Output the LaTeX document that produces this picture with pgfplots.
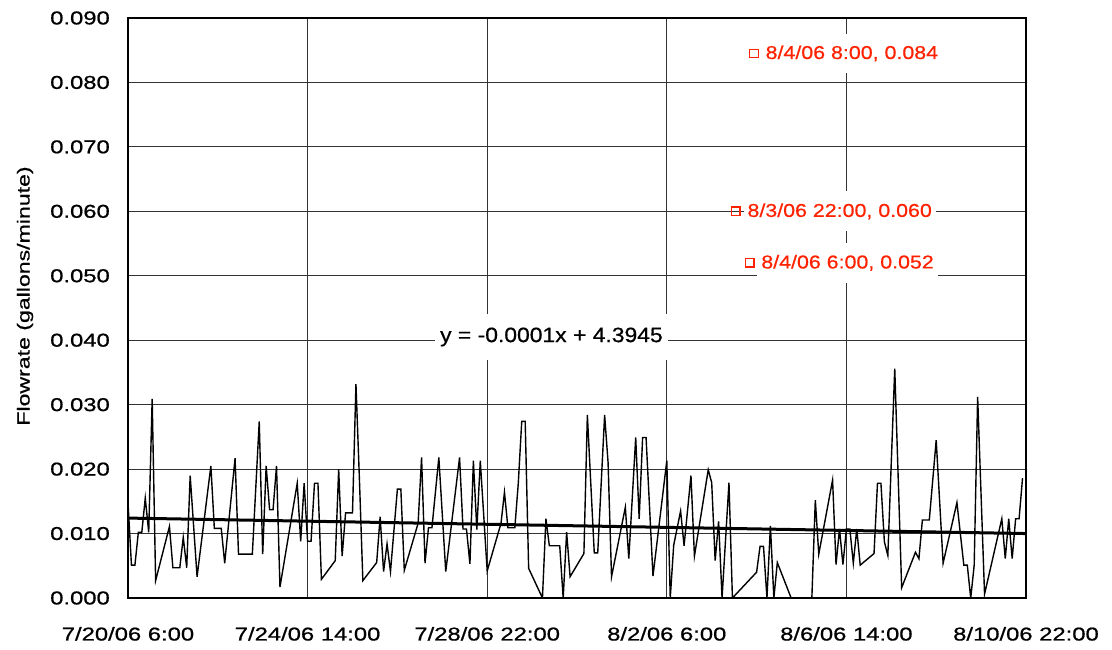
\documentclass[border=0pt]{standalone}
\usepackage{fontspec}
\setmainfont{Liberation Sans}
\newfontfamily\tickfont[FakeStretch=1.28,FakeBold=0.8]{Liberation Sans}
\newfontfamily\annfont[FakeStretch=1.15,FakeBold=0.6]{Liberation Sans}
\newfontfamily\eqfont[FakeStretch=1.1,FakeBold=0.6]{Liberation Sans}
\newfontfamily\labfont[FakeStretch=1.32,FakeBold=0.6]{Liberation Sans}
\usepackage{pgfplots}
\pgfplotsset{compat=1.18}
\definecolor{annred}{RGB}{255,34,0}

\begin{document}
\begin{tikzpicture}
\begin{axis}[
  at={(0pt,0pt)}, anchor=south west,
  scale only axis, width=898pt, height=580pt,
  xmin=0, xmax=520, ymin=0, ymax=0.09,
  scaled y ticks=false, scaled x ticks=false,
  xtick={0,104,208,312,416,520},
  xticklabels={7/20/06 6:00,7/24/06 14:00,7/28/06 22:00,8/2/06 6:00,8/6/06 14:00,8/10/06 22:00},
  ytick={0,0.01,0.02,0.03,0.04,0.05,0.06,0.07,0.08,0.09},
  yticklabels={0.000,0.010,0.020,0.030,0.040,0.050,0.060,0.070,0.080,0.090},
  grid=major,
  major grid style={black!80, line width=0.8pt},
  major tick length=0pt,
  axis line style={line width=1.6pt},
  xticklabel style={font=\tickfont\fontsize{18.6}{22}\selectfont, anchor=base, inner sep=0pt, yshift=-42.5pt},
  yticklabel style={font=\tickfont\fontsize{18.6}{22}\selectfont, anchor=east, inner sep=0pt, xshift=-18pt},
  ylabel={Flowrate (gallons/minute)},
  ylabel style={font=\labfont\fontsize{17.5}{20}\selectfont, at={(axis description cs:-0.1147,0.5207)}, anchor=center},
]
\addplot[black, line width=1.4pt, mark=none] table {
x y
0 0.0148
2 0.0051
4 0.0051
6 0.0102
8 0.0102
10 0.0155
12 0.0102
14 0.0309
16 0.0027
24 0.0111
26 0.0047
30 0.0047
32 0.0094
34 0.0047
36 0.0190
40 0.0033
48 0.0205
50 0.0108
54 0.0108
56 0.0054
62 0.0217
64 0.0068
72 0.0068
76 0.0274
78 0.0068
80 0.0205
82 0.0137
84 0.0137
86 0.0205
88 0.0017
98 0.0178
100 0.0088
102 0.0178
104 0.0088
106 0.0088
108 0.0178
110 0.0178
112 0.0029
120 0.0058
122 0.0200
124 0.0065
126 0.0132
130 0.0132
132 0.0332
134 0.0185
136 0.0027
144 0.0055
146 0.0126
148 0.0041
150 0.0084
152 0.0041
156 0.0169
158 0.0169
160 0.0043
168 0.0116
170 0.0218
172 0.0054
174 0.0109
176 0.0109
180 0.0218
184 0.0041
192 0.0218
194 0.0107
196 0.0107
198 0.0053
200 0.0213
202 0.0106
204 0.0213
208 0.0042
216 0.0116
218 0.0164
220 0.0109
224 0.0109
226 0.0178
228 0.0274
230 0.0274
232 0.0046
240 0.0
242 0.0123
244 0.0081
250 0.0081
252 0.0
254 0.0102
256 0.0033
264 0.0069
266 0.0284
270 0.0070
272 0.0070
276 0.0284
278 0.0210
280 0.0033
288 0.0141
290 0.0061
294 0.0249
296 0.0123
298 0.0249
300 0.0249
304 0.0034
312 0.0213
314 0.0
316 0.0082
320 0.0135
322 0.0081
326 0.0190
328 0.0065
336 0.0199
338 0.0179
340 0.0058
342 0.0119
344 0.0
348 0.0179
350 0.0
364 0.0040
366 0.0080
368 0.0080
370 0.0
372 0.0112
374 0.0
376 0.0055
384 0.0
396 0.0
398 0.0152
400 0.0068
408 0.0183
410 0.0052
412 0.0107
414 0.0052
416 0.0107
418 0.0107
420 0.0054
422 0.0107
424 0.0051
432 0.0069
434 0.0178
436 0.0178
438 0.0087
440 0.0066
444 0.0356
448 0.0016
456 0.0071
458 0.0061
460 0.0121
464 0.0121
468 0.0245
472 0.0054
480 0.0148
484 0.0051
486 0.0051
488 0.0
490 0.0051
492 0.0312
496 0.0006
506 0.0123
508 0.0061
510 0.0123
512 0.0061
514 0.0123
516 0.0123
518 0.0186
};
\addplot[black, line width=3pt, mark=none] coordinates {(0,0.0124) (520,0.0100)};
\addplot[color=annred, only marks, mark=square, mark size=4.2pt,
  mark options={solid, color=annred, line width=1.3pt},
  point meta=explicit symbolic,
  nodes near coords, nodes near coords align=horizontal,
  every node near coord/.append style={anchor=west, xshift=7pt, fill=white, inner xsep=4pt, inner ysep=12pt, text=annred, font=\annfont\fontsize{18.6}{22}\selectfont}]
  coordinates {(352,0.060) [8/3/06 22:00, 0.060] (360,0.052) [8/4/06 6:00, 0.052] (362.5,0.0845) [8/4/06 8:00, 0.084]};
\node[fill=white, inner xsep=5pt, inner ysep=14pt, font=\eqfont\fontsize{20.8}{24}\selectfont] at (axis cs:245.2,0.0405) {y = -0.0001x + 4.3945};
\end{axis}
\pgfresetboundingbox
\path (-128pt,-52pt) rectangle (984pt,598pt);
\end{tikzpicture}
\end{document}
